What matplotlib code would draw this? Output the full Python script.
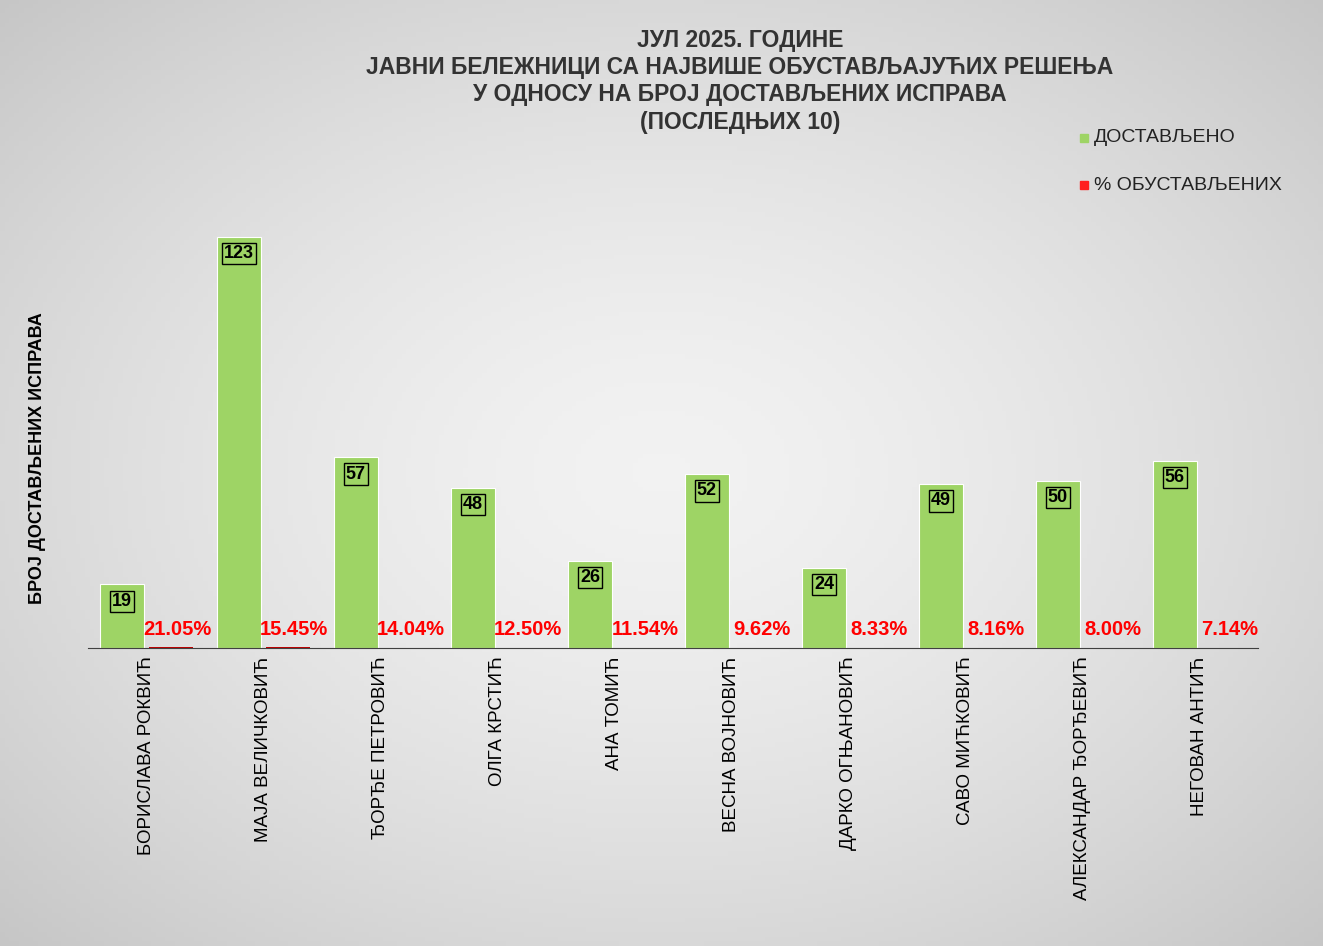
import matplotlib
matplotlib.use("Agg")
import matplotlib.pyplot as plt
import numpy as np

names = ["БОРИСЛАВА РОКВИЋ","МАЈА ВЕЛИЧКОВИЋ","ЂОРЂЕ ПЕТРОВИЋ","ОЛГА КРСТИЋ","АНА ТОМИЋ",
         "ВЕСНА ВОЈНОВИЋ","ДАРКО ОГЊАНОВИЋ","САВО МИЋКОВИЋ","АЛЕКСАНДАР ЂОРЂЕВИЋ","НЕГОВАН АНТИЋ"]
delivered = [19,123,57,48,26,52,24,49,50,56]
pct = [21.05,15.45,14.04,12.50,11.54,9.62,8.33,8.16,8.00,7.14]

W,H = 1323,946
fig = plt.figure(figsize=(W/100,H/100), dpi=100)
bg = fig.add_axes([0,0,1,1]); bg.axis("off")
yy,xx = np.mgrid[0:1:200j,0:1:280j]
r = np.sqrt(((xx-0.5)/0.7)**2+((yy-0.5)/0.7)**2)
g = 0.95 - 0.17*np.clip(r,0,1)**1.5
bg.imshow(np.dstack([g,g,g]), extent=[0,1,0,1], aspect="auto")
bg.set_xlim(0,1); bg.set_ylim(0,1)

ax = fig.add_axes([88/W, 1-648/H, (1258-88)/W, 448/H])
ax.patch.set_alpha(0)
x = np.arange(len(names))
green = "#9ED465"
ax.bar(x-0.21, delivered, width=0.375, color=green, edgecolor="white", linewidth=0.8)
ax.bar(x+0.21, [p/100 for p in pct], width=0.375, color="#C00000")
ax.set_xlim(-0.5, len(names)-0.5)
ax.set_ylim(0, 134)
for s in ["top","right","left"]:
    ax.spines[s].set_visible(False)
ax.spines["bottom"].set_color("#404040")
ax.set_yticks([])
ax.set_xticks(x)
ax.set_xticklabels(names, rotation=90, fontsize=13.5, family="Liberation Sans")
ax.tick_params(axis="x", length=0, pad=6)
for i,(d,p) in enumerate(zip(delivered,pct)):
    ax.text(i-0.21, d-5, str(d), ha="center", va="center", fontsize=13, fontweight="bold",
            family="Liberation Sans", bbox=dict(boxstyle="square,pad=0.12", facecolor=green, edgecolor="black", linewidth=1))
    ax.text(i+0.26, 5.5, f"{p:.2f}%", ha="center", va="center", fontsize=14.5, fontweight="bold",
            color="#FF0000", family="Liberation Sans")

title = ["ЈУЛ 2025. ГОДИНЕ","ЈАВНИ БЕЛЕЖНИЦИ СА НАЈВИШЕ ОБУСТАВЉАЈУЋИХ РЕШЕЊА",
         "У ОДНОСУ НА БРОЈ ДОСТАВЉЕНИХ ИСПРАВА","(ПОСЛЕДЊИХ 10)"]
for k,t in enumerate(title):
    fig.text(740/W, 1-(40+27.5*k)/H, t, ha="center", va="center", fontsize=16.5,
             fontweight="bold", color="#333333", family="Liberation Sans")

fig.text(38/W, 1-458/H, "БРОЈ ДОСТАВЉЕНИХ ИСПРАВА", rotation=90, ha="center", va="center",
         fontsize=13, fontweight="bold", family="Liberation Sans")

for yv,c,t in [(138,green,"ДОСТАВЉЕНО"),(185,"#FF2020","% ОБУСТАВЉЕНИХ")]:
    fig.patches.append(plt.Rectangle((1080/W,1-(yv+4)/H),8/W,8/H,transform=fig.transFigure,color=c))
    fig.text(1094/W, 1-yv/H, t, ha="left", va="center", fontsize=14, color="#222222", family="Liberation Sans")

fig.savefig("out.png", dpi=100)
